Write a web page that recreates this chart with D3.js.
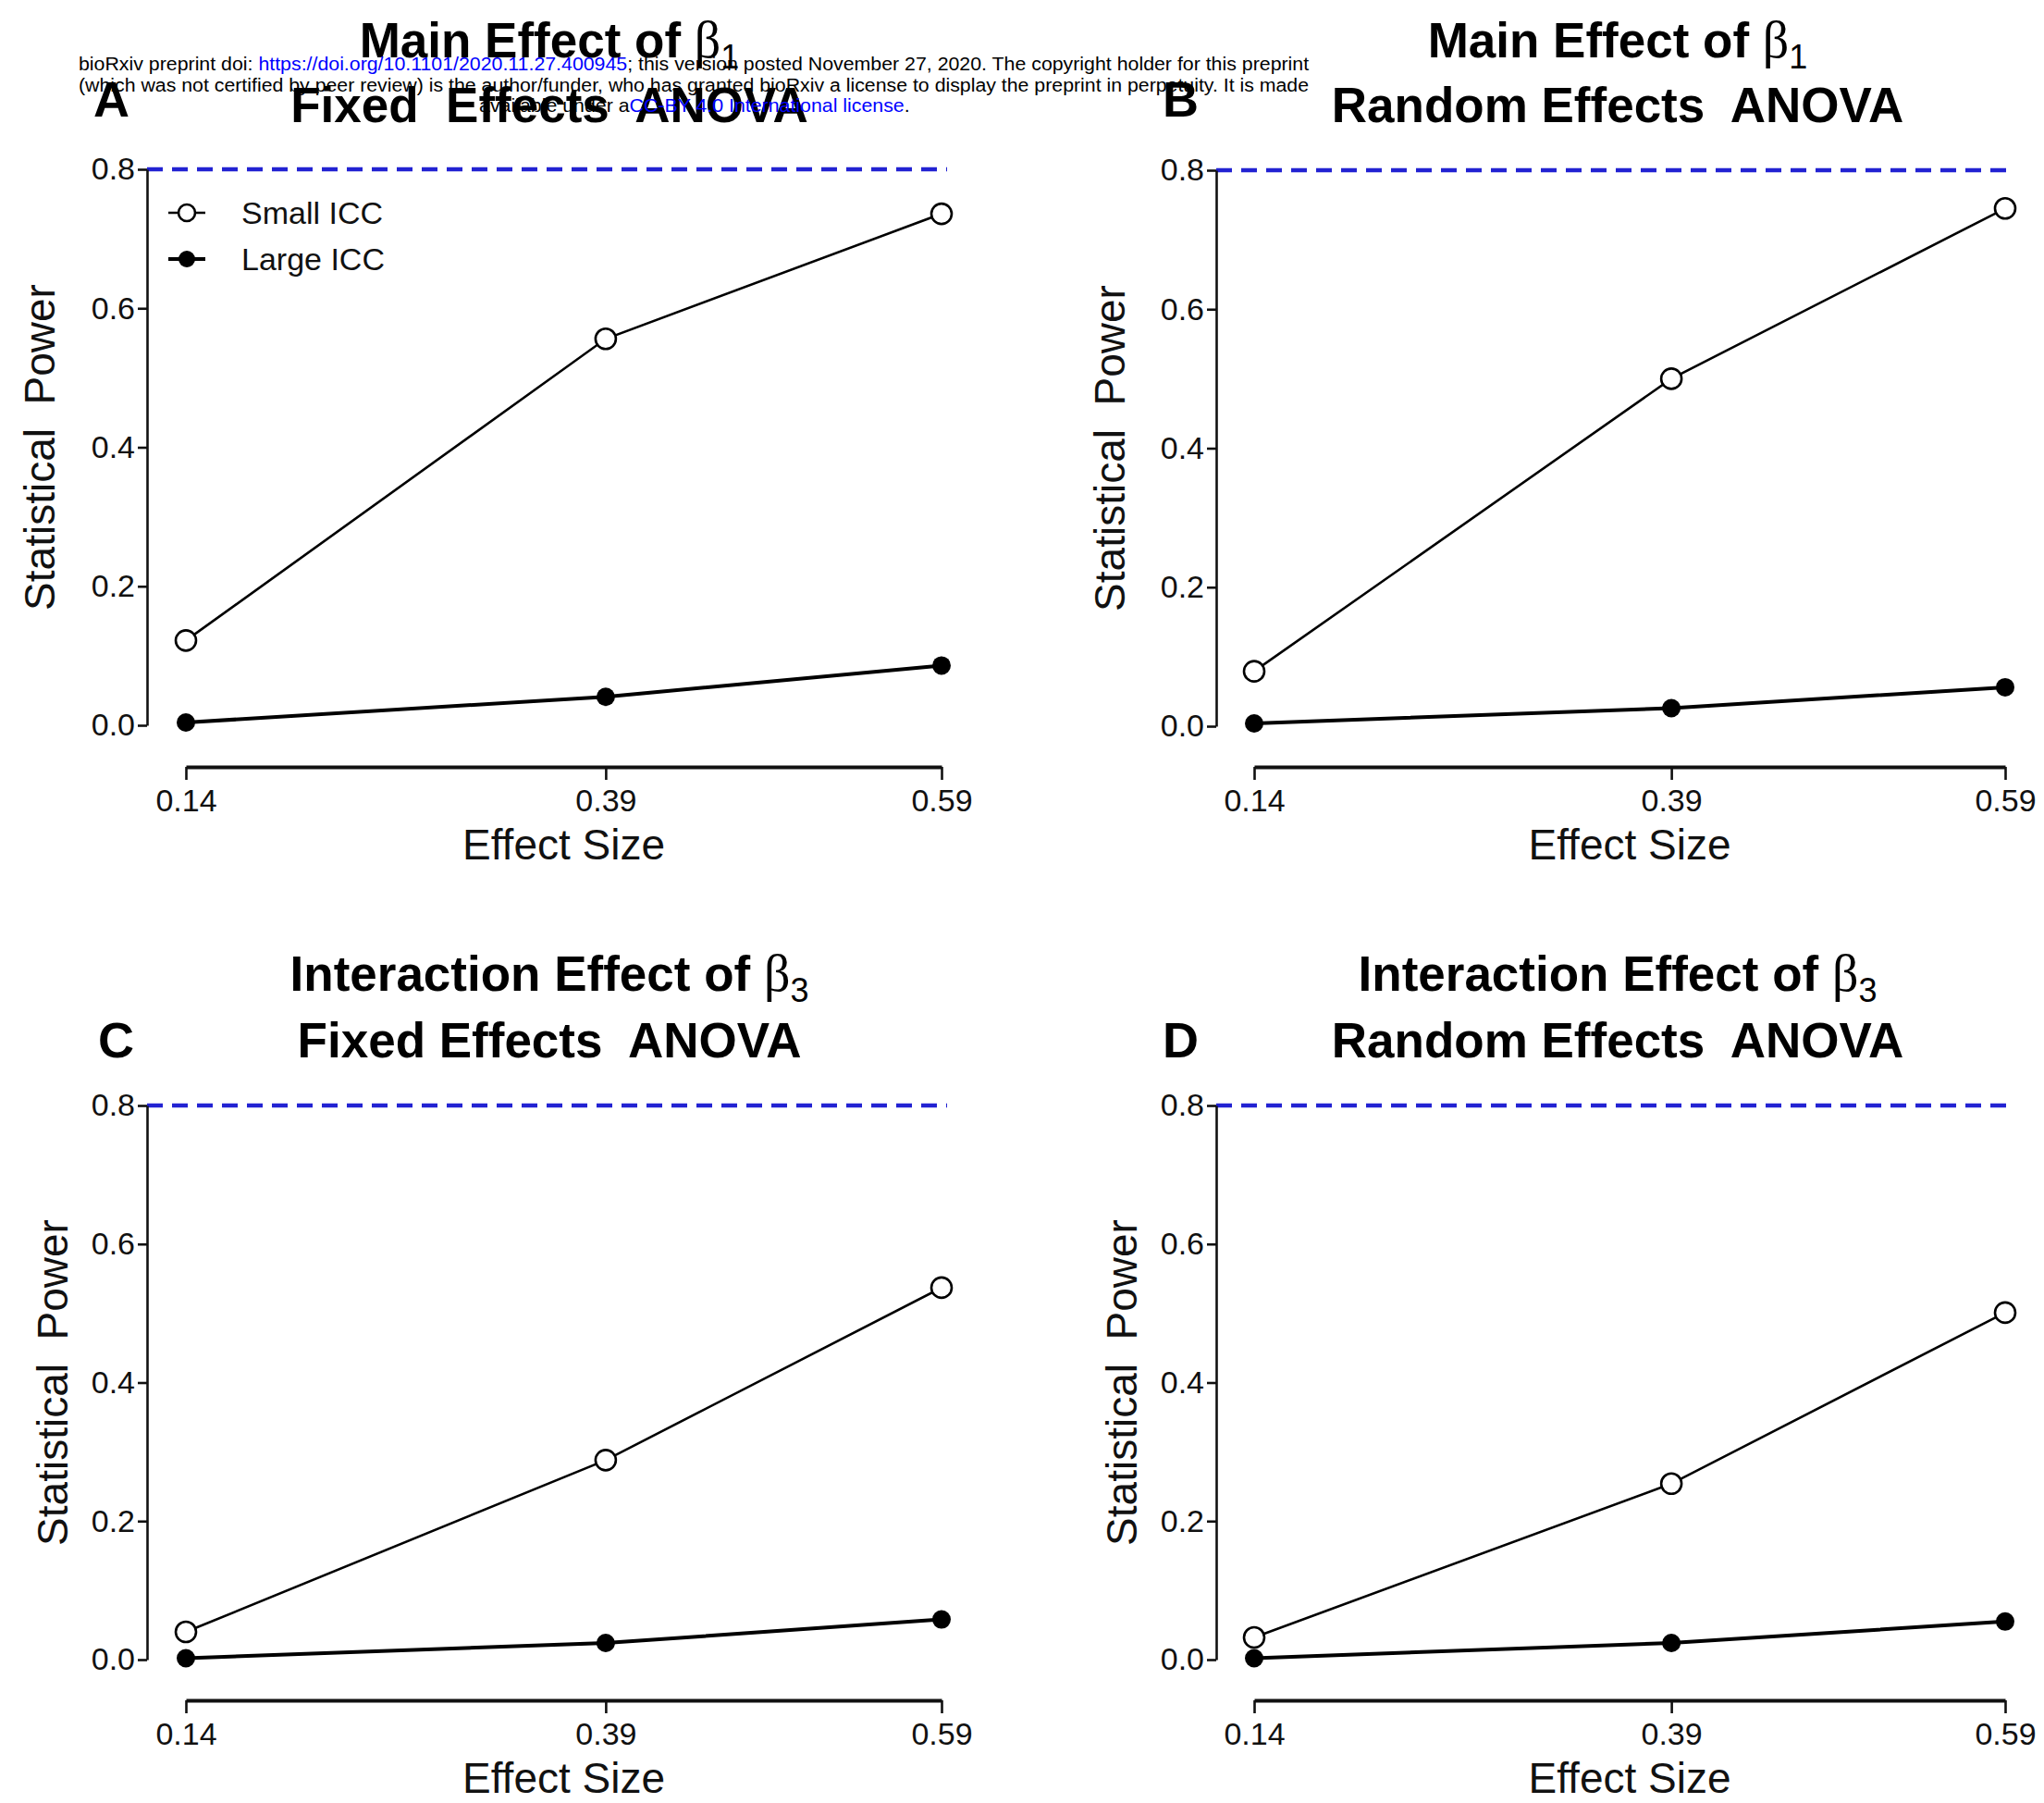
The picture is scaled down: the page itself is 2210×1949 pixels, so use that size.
<!DOCTYPE html>
<html>
<head>
<meta charset="utf-8">
<script src="https://cdn.jsdelivr.net/npm/d3@7"></script>
<style>
  body { margin: 0; background: #fff; }
  text { font-family: "Liberation Sans", Arial, sans-serif; }
</style>
</head>
<body>
<div id="wrapper"></div>
<script>
// values
const effectSizes = [0.14, 0.39, 0.59]
const yTicks = [0, 0.2, 0.4, 0.6, 0.8]
const targetPower = 0.8
const seriesNames = ["Small ICC", "Large ICC"]

const smallA = [0.122, 0.556, 0.736]
const largeA = [0.004, 0.041, 0.086]
const smallB = [0.079, 0.500, 0.745]
const largeB = [0.004, 0.026, 0.056]
const smallC = [0.040, 0.288, 0.537]
const largeC = [0.002, 0.024, 0.058]
const smallD = [0.032, 0.254, 0.501]
const largeD = [0.002, 0.024, 0.055]

const panelLetters = ["A", "B", "C", "D"]
const titleTop = ["Main Effect of ", "Main Effect of ", "Interaction Effect of ", "Interaction Effect of "]
const titleSub = ["1", "1", "3", "3"]
const titleBottom = ["Fixed  Effects  ANOVA", "Random Effects  ANOVA", "Fixed Effects  ANOVA", "Random Effects  ANOVA"]
const smallSeries = [smallA, smallB, smallC, smallD]
const largeSeries = [largeA, largeB, largeC, largeD]

const xLabel = "Effect Size"
const yLabel = "Statistical  Power"

// 1. dimensions
const width = 2210
const height = 1949

const layout = [
  {left: 159, x0: 201, x1: 1018, top: 183, bottom: 784, xAxisY: 829, yLabelX: 59, cx: 594, t1: 62, t2: 132, letterX: 101, letterY: 126},
  {left: 1315, x0: 1356, x1: 2168, top: 184, bottom: 785, xAxisY: 829, yLabelX: 1216, cx: 1749, t1: 62, t2: 132, letterX: 1257, letterY: 126},
  {left: 159, x0: 201, x1: 1018, top: 1195, bottom: 1794, xAxisY: 1838, yLabelX: 73, cx: 594, t1: 1071, t2: 1143, letterX: 106, letterY: 1143},
  {left: 1315, x0: 1356, x1: 2168, top: 1195, bottom: 1794, xAxisY: 1838, yLabelX: 1229, cx: 1749, t1: 1071, t2: 1143, letterX: 1257, letterY: 1143},
]

// 2. canvas
const svg = d3.select("#wrapper")
  .append("svg")
    .attr("width", width)
    .attr("height", height)

svg.append("rect")
  .attr("width", width)
  .attr("height", height)
  .attr("fill", "white")

// 3. panels
layout.forEach((L, i) => {
  const g = svg.append("g")

  const xScale = d3.scaleLinear()
    .domain([effectSizes[0], effectSizes[effectSizes.length - 1]])
    .range([L.x0, L.x1])

  const yScale = d3.scaleLinear()
    .domain([0, 0.8])
    .range([L.bottom, L.top])

  // titles
  const t1 = g.append("text")
    .attr("x", L.cx)
    .attr("y", L.t1)
    .attr("text-anchor", "middle")
    .style("font-size", "53px")
    .style("font-weight", "bold")
    .style("white-space", "pre")
  t1.append("tspan").text(titleTop[i])
  t1.append("tspan")
    .text("β")
    .style("font-family", "'Liberation Serif', serif")
    .style("font-weight", "normal")
    .style("font-size", "56px")
  t1.append("tspan")
    .text(titleSub[i])
    .attr("dy", 12)
    .style("font-size", "36px")
    .style("font-weight", "normal")

  g.append("text")
    .attr("x", L.cx)
    .attr("y", L.t2)
    .attr("text-anchor", "middle")
    .style("font-size", "53px")
    .style("font-weight", "bold")
    .style("white-space", "pre")
    .text(titleBottom[i])

  g.append("text")
    .attr("x", L.letterX)
    .attr("y", L.letterY)
    .style("font-size", "54px")
    .style("font-weight", "bold")
    .text(panelLetters[i])

  // target power line
  g.append("line")
    .attr("x1", L.left)
    .attr("x2", L.x1 + 6)
    .attr("y1", yScale(targetPower))
    .attr("y2", yScale(targetPower))
    .attr("stroke", "#2222d2")
    .attr("stroke-width", 4.5)
    .attr("stroke-dasharray", "17,10")

  // y axis
  const yAxis = g.append("g")
    .attr("transform", `translate(${L.left},0)`)
    .call(d3.axisLeft(yScale).tickValues(yTicks).tickSize(10).tickSizeOuter(0).tickPadding(3).tickFormat(d3.format(".1f")))
  yAxis.selectAll("path, line").attr("stroke", "#111").attr("stroke-width", 2.6)
  yAxis.selectAll("text")
    .attr("fill", "#111")
    .style("font-size", "34px")
    .style("font-family", "'Liberation Sans', Arial, sans-serif")

  // x axis
  const xAxis = g.append("g")
    .attr("transform", `translate(0,${L.xAxisY})`)
    .call(d3.axisBottom(xScale).tickValues(effectSizes).tickSize(14).tickSizeOuter(0).tickPadding(10).tickFormat(d3.format(".2f")))
  xAxis.select(".domain").attr("stroke", "#111").attr("stroke-width", 4)
  xAxis.selectAll("line").attr("stroke", "#111").attr("stroke-width", 2.6)
  xAxis.selectAll("text")
    .attr("fill", "#111")
    .style("font-size", "34px")
    .style("font-family", "'Liberation Sans', Arial, sans-serif")

  g.append("text")
    .attr("x", (L.x0 + L.x1) / 2)
    .attr("y", L.xAxisY + 100)
    .attr("text-anchor", "middle")
    .style("font-size", "46px")
    .attr("fill", "#111")
    .text(xLabel)

  g.append("text")
    .attr("transform", `translate(${L.yLabelX},${(L.top + L.bottom) / 2}) rotate(-90)`)
    .attr("text-anchor", "middle")
    .style("font-size", "46px")
    .style("white-space", "pre")
    .attr("fill", "#111")
    .text(yLabel)

  // data
  const lineGen = d3.line()
    .x((d, j) => xScale(effectSizes[j]))
    .y(d => yScale(d))

  g.append("path")
    .datum(largeSeries[i])
    .attr("d", lineGen)
    .attr("fill", "none")
    .attr("stroke", "black")
    .attr("stroke-width", 4)

  g.selectAll(".large")
    .data(largeSeries[i])
    .enter().append("circle")
      .attr("cx", (d, j) => xScale(effectSizes[j]))
      .attr("cy", d => yScale(d))
      .attr("r", 10)
      .attr("fill", "black")

  g.append("path")
    .datum(smallSeries[i])
    .attr("d", lineGen)
    .attr("fill", "none")
    .attr("stroke", "black")
    .attr("stroke-width", 2.6)

  g.selectAll(".small")
    .data(smallSeries[i])
    .enter().append("circle")
      .attr("cx", (d, j) => xScale(effectSizes[j]))
      .attr("cy", d => yScale(d))
      .attr("r", 11)
      .attr("fill", "white")
      .attr("stroke", "black")
      .attr("stroke-width", 2.6)

  // legend (panel A only)
  if (i === 0) {
    const legend = g.append("g")
    seriesNames.forEach((name, k) => {
      const ly = 230 + k * 50
      legend.append("line")
        .attr("x1", 182).attr("x2", 222)
        .attr("y1", ly).attr("y2", ly)
        .attr("stroke", "black")
        .attr("stroke-width", k === 0 ? 2.6 : 4)
      legend.append("circle")
        .attr("cx", 202).attr("cy", ly)
        .attr("r", 9)
        .attr("fill", k === 0 ? "white" : "black")
        .attr("stroke", "black")
        .attr("stroke-width", k === 0 ? 2.6 : 0)
      legend.append("text")
        .attr("x", 261)
        .attr("y", ly + 12)
        .style("font-size", "34px")
        .attr("fill", "#111")
        .text(name)
    })
  }
})

// 4. preprint notice on top
const notice = svg.append("g")
  .style("font-size", "21px")

function noticeLine(parts) {
  const t = notice.append("text").attr("y", 0)
  parts.forEach(p => {
    t.append("tspan").text(p[0]).attr("fill", p[1] ? "#0000ff" : "black")
  })
  return t
}

const line1 = noticeLine([
  ["bioRxiv preprint doi: ", false],
  ["https://doi.org/10.1101/2020.11.27.400945", true],
  ["; this version posted November 27, 2020. The copyright holder for this preprint", false],
])
const line2 = noticeLine([
  ["(which was not certified by peer review) is the author/funder, who has granted bioRxiv a license to display the preprint in perpetuity. It is made", false],
])
const line3 = noticeLine([
  ["available under a", false],
  ["CC-BY 4.0 International license", true],
  [".", false],
])

const s1 = 1331 / line1.node().getComputedTextLength()
const s2 = 1331 / line2.node().getComputedTextLength()
line1.attr("transform", `translate(85,76) scale(${s1},1)`)
line2.attr("transform", `translate(85,98.5) scale(${s2},1)`)
const w3 = line3.node().getComputedTextLength() * s1
line3.attr("transform", `translate(${751 - w3 / 2},121) scale(${s1},1)`)
</script>
</body>
</html>
